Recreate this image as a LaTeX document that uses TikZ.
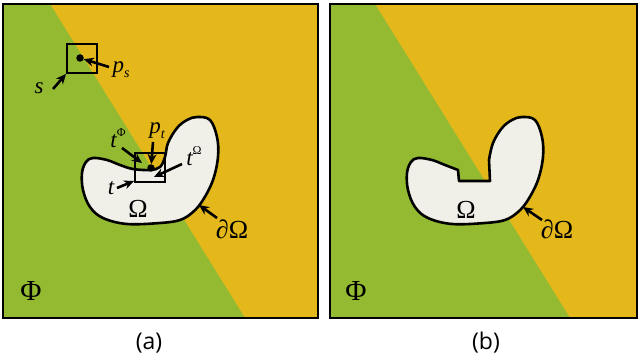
\documentclass[tikz,border=0pt]{standalone}
\usepackage{fontspec}
\setsansfont{Open Sans}
\newfontfamily\tms{Liberation Serif}
\usetikzlibrary{arrows.meta}
\definecolor{grn}{RGB}{148,186,50}
\definecolor{ylw}{RGB}{228,184,26}
\definecolor{blobc}{RGB}{240,240,232}
\newcommand{\subtxt}[1]{\raisebox{-5pt}{\fontsize{14}{14}\selectfont #1}}
\newcommand{\suptxt}[1]{\raisebox{11pt}{\fontsize{12}{12}\selectfont\upshape #1}}
\begin{document}
\begin{tikzpicture}[x=1pt,y=-1pt,
  frame/.style={draw=black,line width=2pt},
  blob/.style={draw=black,line width=2.6pt,fill=blobc,line join=round},
  marker/.style={draw=black,line width=2pt,rectangle,inner sep=0pt,minimum width=30pt,minimum height=29pt},
  dot/.style={fill=black,circle,inner sep=0pt,minimum size=7.5pt},
  arr/.style={line width=2.6pt,-{Stealth[length=10pt,width=9pt]}},
  lbl/.style={font=\tms\itshape\fontsize{23}{25}\selectfont,inner sep=0pt},
  big/.style={font=\tms\fontsize{26}{28}\selectfont,inner sep=0pt},
  phis/.style={font=\tms\fontsize{29}{31}\selectfont,inner sep=0pt},
  captext/.style={font=\sffamily\fontsize{23}{26}\selectfont,inner sep=0pt}]
\useasboundingbox (0,0) rectangle (640,363);
% ---------- panel (a) ----------
\fill[ylw] (3,4) rectangle (318,318);
\fill[grn] (3,4) -- (50,4) -- (245,318) -- (3,318) -- cycle;
\draw[frame] (3,4) rectangle (318,318);
\draw[blob] plot[smooth cycle, tension=0.6] coordinates {(93,158) (107,160) (120,165) (133,169) (150,170) (160,167) (165,157) (168,143) (177,128) (187,120) (197,117) (210,120) (217,137) (218,157) (213,180) (203,200) (193,212) (180,220) (160,223) (127,224) (103,218) (90,207) (83,190) (82,173) (86,162)};
\node[marker] (s) at (82,58.5) {};
\node[dot] (ps) at (80,58) {};
\node[marker] (t) at (150,167.5) {};
\node[dot] (pt) at (151,168) {};
\node[lbl] (ls) at (39,88) {s};
\node[lbl] (lps) at (121,70) {p\subtxt{s}};
\node[lbl] (ltphi) at (118,138) {t\suptxt{Φ}};
\node[lbl] (lpt) at (157,131) {p\subtxt{t}};
\node[lbl] (ltom) at (194,156) {t\suptxt{Ω}};
\node[lbl] (lt) at (111,188) {t};
\node[big] (om) at (138,209) {Ω};
\node[big] (dom) at (232,229) {∂Ω};
\node[phis] (phi) at (31,291) {Φ};
\node[captext] (capa) at (149,343) {(a)};
\coordinate (as) at (53,89);
\coordinate (aps) at (109,67);
\coordinate (atphi) at (122,148);
\coordinate (atphiE) at (142,163);
\coordinate (apt) at (153,142);
\coordinate (atom) at (182,164);
\coordinate (atomE) at (154,177);
\coordinate (at) at (117,188);
\coordinate (atE) at (134,181);
\coordinate (adom) at (217,218);
\coordinate (adomE) at (199,205);
\draw[arr] (as) -- (s.south west);
\draw[arr] (aps) -- (ps);
\draw[arr] (atphi) -- (atphiE);
\draw[arr] (apt) -- (pt);
\draw[arr] (atom) -- (atomE);
\draw[arr] (at) -- (atE);
\draw[arr] (adom) -- (adomE);
% ---------- panel (b) ----------
\fill[ylw] (330,4) rectangle (637,318);
\fill[grn] (330,4) -- (375,4) -- (570,318) -- (330,318) -- cycle;
\draw[frame] (330,4) rectangle (637,318);
\draw[blob] (458,170) -- (459,181) -- (490,181) -- (489,160) -- plot[smooth, tension=0.6] coordinates {(489,160) (493,143) (502,128) (512,120) (522,117) (535,120) (542,137) (543,157) (538,180) (528,200) (518,212) (505,220) (485,223) (452,224) (428,218) (415,207) (408,190) (407,173) (411,162) (418,158) (432,160) (445,165) (458,170)} -- cycle;
\node[big] (omb) at (466,210) {Ω};
\node[big] (domb) at (557,229) {∂Ω};
\node[phis] (phib) at (356,291) {Φ};
\node[captext] (capb) at (486,343) {(b)};
\coordinate (bdom) at (542,220);
\coordinate (bdomE) at (523,207);
\draw[arr] (bdom) -- (bdomE);
\end{tikzpicture}
\end{document}
